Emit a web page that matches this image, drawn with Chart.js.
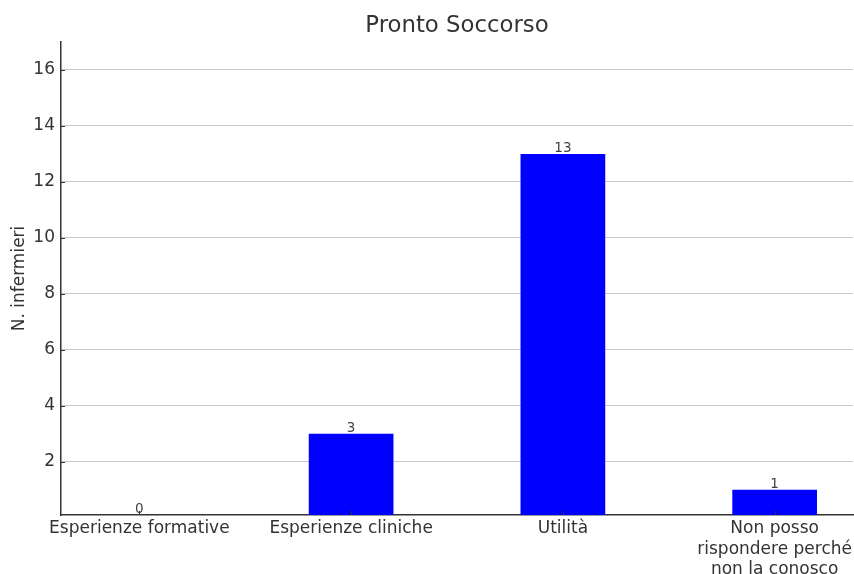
<!DOCTYPE html>
<html>
<head>
<meta charset="utf-8">
<script src="https://cdn.jsdelivr.net/npm/chart.js@4"></script>
<style>
  html, body { margin: 0; padding: 0; background: #fff; }
  #wrap { width: 854px; height: 574px; }
</style>
</head>
<body>
<div id="wrap"><canvas id="c" width="854" height="574"></canvas></div>
<script>
const titleText = 'Pronto Soccorso';
const yAxisTitle = 'N. infermieri';
const categories = [
  ['Esperienze formative'],
  ['Esperienze cliniche'],
  ['Utilità'],
  ['Non posso', 'rispondere perché', 'non la conosco']
];
const values = [0, 3, 13, 1];
const yTicks = [2, 4, 6, 8, 10, 12, 14, 16];
const yMin = 0.1, yMax = 17;
const xMin = -0.37, xMax = 3.37;

const FONT = 'DejaVu Sans';
const TXT = '#333333';

const overlay = {
  id: 'overlay',
  afterDraw(chart) {
    const ctx = chart.ctx;
    const a = chart.chartArea;
    const xs = chart.scales.x, ys = chart.scales.y;
    ctx.save();
    // title
    ctx.fillStyle = TXT;
    ctx.font = '22.8px "' + FONT + '"';
    ctx.textAlign = 'center';
    ctx.textBaseline = 'middle';
    ctx.fillText(titleText, (a.left + a.right) / 2, 26);
    // inner tick marks
    ctx.strokeStyle = TXT;
    ctx.lineWidth = 1;
    ctx.beginPath();
    yTicks.forEach(v => {
      const y = Math.round(ys.getPixelForValue(v)) + 0.5;
      ctx.moveTo(a.left, y); ctx.lineTo(a.left + 4, y);
    });
    values.forEach((v, i) => {
      const x = Math.round(xs.getPixelForValue(i)) + 0.5;
      ctx.moveTo(x, a.bottom); ctx.lineTo(x, a.bottom - 4);
    });
    ctx.stroke();
    // value labels
    ctx.fillStyle = '#444444';
    ctx.font = '13.5px "' + FONT + '"';
    ctx.textBaseline = 'alphabetic';
    const meta = chart.getDatasetMeta(0);
    meta.data.forEach((bar, i) => {
      const y = Math.min(bar.y, a.bottom);
      ctx.fillText(String(values[i]), bar.x, y - 2);
    });
    ctx.restore();
  }
};

new Chart(document.getElementById('c'), {
  type: 'bar',
  data: {
    datasets: [{
      data: values.map((v, i) => ({ x: i, y: v })),
      backgroundColor: '#0000ff',
      borderWidth: 0,
      barPercentage: 0.4,
      categoryPercentage: 1.0
    }]
  },
  options: {
    responsive: false,
    animation: false,
    devicePixelRatio: 1,
    layout: { padding: { top: 42, right: 1, left: 0, bottom: 0 } },
    plugins: { legend: { display: false }, tooltip: { enabled: false }, title: { display: false } },
    scales: {
      x: {
        type: 'linear',
        min: xMin, max: xMax,
        offset: false,
        afterBuildTicks(scale) { scale.ticks = categories.map((c, i) => ({ value: i })); },
        afterFit(scale) { scale.height = 59; scale.paddingLeft = 0; scale.paddingRight = 0; },
        grid: { display: false, drawTicks: false },
        border: { display: true, color: TXT, width: 1.5 },
        ticks: {
          autoSkip: false,
          maxRotation: 0,
          minRotation: 0,
          padding: 4,
          color: TXT,
          font: { family: FONT, size: 17, lineHeight: 1.18 },
          callback: (v) => categories[v]
        }
      },
      y: {
        min: yMin, max: yMax,
        afterBuildTicks(scale) { scale.ticks = yTicks.map(v => ({ value: v })); },
        afterFit(scale) { scale.width = 61; scale.paddingTop = 0; scale.paddingBottom = 0; },
        grid: { color: '#c8c8c8', lineWidth: 1, drawTicks: false },
        border: { display: true, color: TXT, width: 1.5 },
        ticks: {
          padding: 6,
          color: TXT,
          font: { family: FONT, size: 17 },
          callback: (v) => String(v)
        },
        title: {
          display: true,
          text: yAxisTitle,
          color: TXT,
          font: { family: FONT, size: 17, lineHeight: 1.2 },
          padding: { top: 9, bottom: 0 }
        }
      }
    }
  },
  plugins: [overlay]
});
</script>
</body>
</html>
